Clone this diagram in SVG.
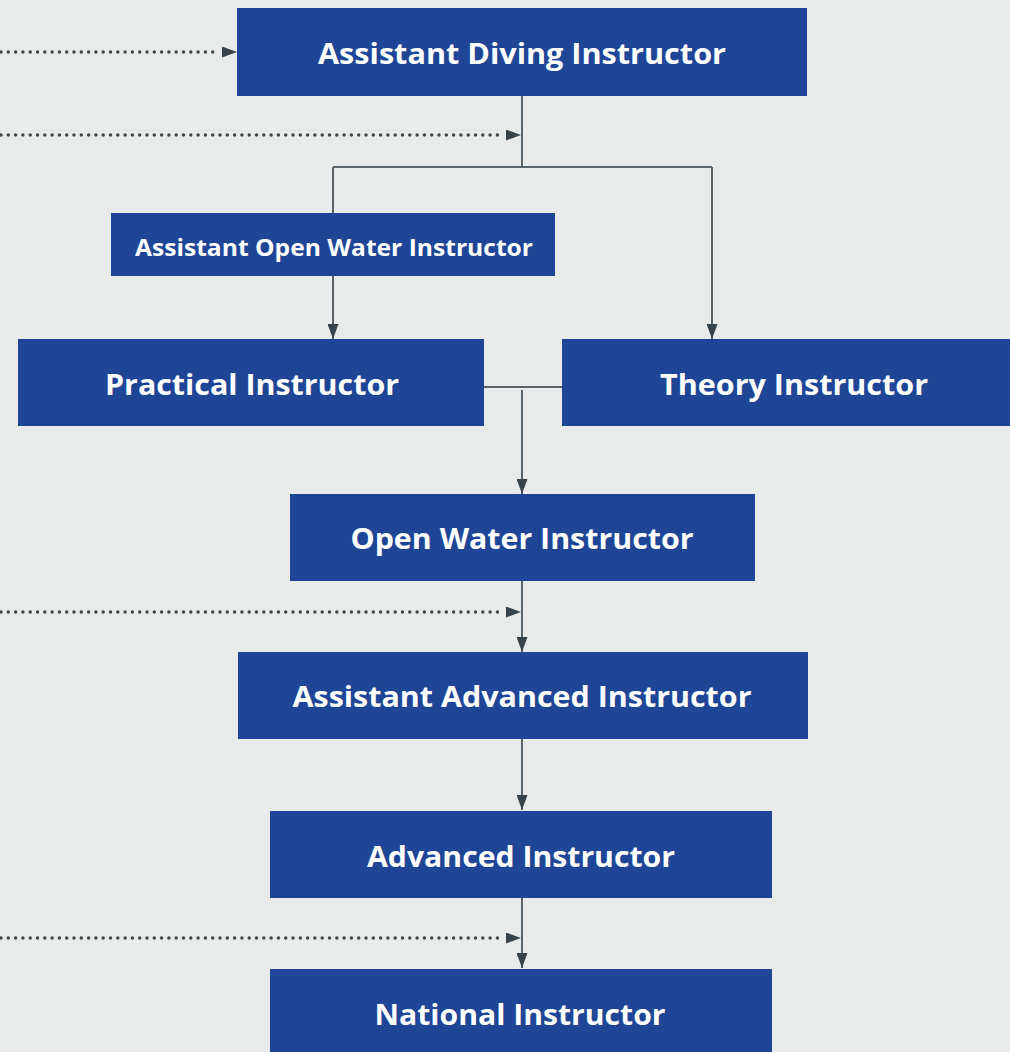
<svg xmlns="http://www.w3.org/2000/svg" width="1010" height="1052" viewBox="0 0 1010 1052">
<defs>
<marker id="ahv" viewBox="0 0 15 11" refX="15" refY="5.5" markerWidth="15" markerHeight="11" markerUnits="userSpaceOnUse" orient="auto">
<path d="M0,0 L15,5.5 L0,11 z" fill="#37434a"/>
</marker>
<style>
.node{fill:#1e4596}
.t{font-family:"Open Sans","Noto Sans",sans-serif;font-weight:bold;fill:#ffffff;text-anchor:middle}
.big{font-size:29px}
.small{font-size:23px}
.ln{fill:none;stroke:#58636a;stroke-width:2}
.dot{fill:none;stroke:#3c474e;stroke-width:3.5;stroke-linecap:round;stroke-dasharray:0 7.3}
</style>
</defs>
<rect width="1010" height="1052" fill="#e9ebea"/>
<g id="connectors">
<line class="dot" x1="1" y1="52" x2="220" y2="52"/>
<path d="M222,52 L237,52" fill="none" marker-end="url(#ahv)"/>
<line class="dot" x1="1" y1="135" x2="504" y2="135"/>
<path d="M506,135 L521,135" fill="none" marker-end="url(#ahv)"/>
<line class="dot" x1="1" y1="612" x2="504" y2="612"/>
<path d="M506,612 L521,612" fill="none" marker-end="url(#ahv)"/>
<line class="dot" x1="1" y1="938" x2="504" y2="938"/>
<path d="M506,938 L521,938" fill="none" marker-end="url(#ahv)"/>
<path class="ln" d="M522,96 V168"/>
<path class="ln" d="M333,167 H712"/>
<path class="ln" d="M333,167 V339" marker-end="url(#ahv)"/>
<path class="ln" d="M712,167 V339" marker-end="url(#ahv)"/>
<path class="ln" d="M484,387 H562"/>
<path class="ln" d="M522,390 V494" marker-end="url(#ahv)"/>
<path class="ln" d="M522,581 V652" marker-end="url(#ahv)"/>
<path class="ln" d="M522,739 V810" marker-end="url(#ahv)"/>
<path class="ln" d="M522,893 V968" marker-end="url(#ahv)"/>
</g>
<g id="n-adi"><rect class="node" x="237" y="8" width="570" height="88"/><text class="t big" x="522" y="64" textLength="408" lengthAdjust="spacingAndGlyphs">Assistant Diving Instructor</text></g>
<g id="n-aowi"><rect class="node" x="111" y="213" width="444" height="63"/><text class="t small" x="334" y="256" textLength="398" lengthAdjust="spacingAndGlyphs">Assistant Open Water Instructor</text></g>
<g id="n-pi"><rect class="node" x="18" y="339" width="466" height="87"/><text class="t big" x="252" y="395" textLength="294" lengthAdjust="spacingAndGlyphs">Practical Instructor</text></g>
<g id="n-ti"><rect class="node" x="562" y="339" width="450" height="87"/><text class="t big" x="794" y="395" textLength="268" lengthAdjust="spacingAndGlyphs">Theory Instructor</text></g>
<g id="n-owi"><rect class="node" x="290" y="494" width="465" height="87"/><text class="t big" x="522" y="549" textLength="343" lengthAdjust="spacingAndGlyphs">Open Water Instructor</text></g>
<g id="n-aai"><rect class="node" x="238" y="652" width="570" height="87"/><text class="t big" x="522" y="707" textLength="459" lengthAdjust="spacingAndGlyphs">Assistant Advanced Instructor</text></g>
<g id="n-ai"><rect class="node" x="270" y="811" width="502" height="87"/><text class="t big" x="521" y="867" textLength="308" lengthAdjust="spacingAndGlyphs">Advanced Instructor</text></g>
<g id="n-ni"><rect class="node" x="270" y="969" width="502" height="90"/><text class="t big" x="520" y="1025" textLength="291" lengthAdjust="spacingAndGlyphs">National Instructor</text></g>
</svg>
